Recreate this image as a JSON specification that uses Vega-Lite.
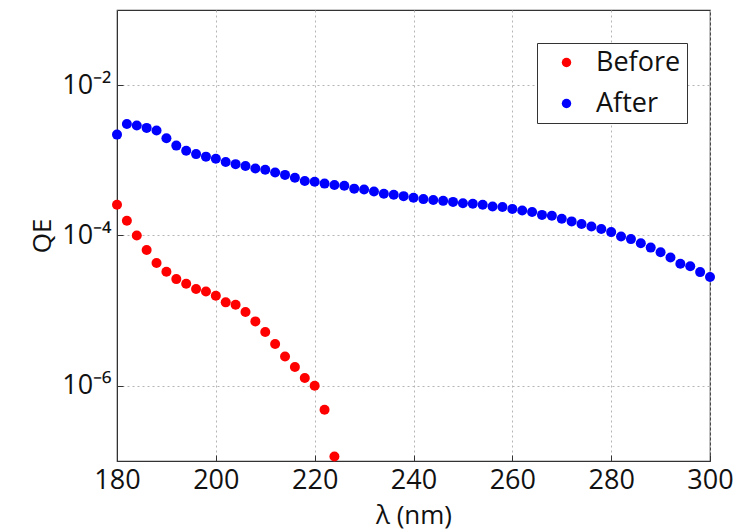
{
  "$schema": "https://vega.github.io/schema/vega-lite/v6.json",
  "autosize": {"type": "none"},
  "padding": {"left": 117, "top": 10, "right": 28, "bottom": 70},
  "width": 593,
  "height": 451,
  "background": "white",
  "config": {
    "font": "Open Sans",
    "view": {"stroke": "#333", "strokeWidth": 1.2},
    "axis": {
      "domainColor": "#333",
      "tickColor": "#333",
      "labelColor": "#111",
      "titleColor": "#111",
      "labelFont": "Open Sans",
      "titleFont": "Open Sans",
      "labelFontSize": 27,
      "titleFontSize": 26,
      "titleFontWeight": "normal",
      "gridColor": "#b5b5b5",
      "gridDash": [2, 3],
      "gridWidth": 1,
      "tickSize": -6,
      "labelFlush": false
    }
  },
  "data": {
    "values": [
      {"lambda": 180, "qe": 0.000256, "series": "Before"},
      {"lambda": 182, "qe": 0.000157, "series": "Before"},
      {"lambda": 184, "qe": 0.0001, "series": "Before"},
      {"lambda": 186, "qe": 0.000064, "series": "Before"},
      {"lambda": 188, "qe": 0.000043, "series": "Before"},
      {"lambda": 190, "qe": 0.0000329, "series": "Before"},
      {"lambda": 192, "qe": 0.0000263, "series": "Before"},
      {"lambda": 194, "qe": 0.0000228, "series": "Before"},
      {"lambda": 196, "qe": 0.0000194, "series": "Before"},
      {"lambda": 198, "qe": 0.000018, "series": "Before"},
      {"lambda": 200, "qe": 0.0000158, "series": "Before"},
      {"lambda": 202, "qe": 0.0000129, "series": "Before"},
      {"lambda": 204, "qe": 0.000012, "series": "Before"},
      {"lambda": 206, "qe": 0.0000096, "series": "Before"},
      {"lambda": 208, "qe": 0.0000072, "series": "Before"},
      {"lambda": 210, "qe": 0.0000052, "series": "Before"},
      {"lambda": 212, "qe": 0.0000036, "series": "Before"},
      {"lambda": 214, "qe": 0.00000246, "series": "Before"},
      {"lambda": 216, "qe": 0.00000178, "series": "Before"},
      {"lambda": 218, "qe": 0.00000127, "series": "Before"},
      {"lambda": 220, "qe": 0.000001, "series": "Before"},
      {"lambda": 222, "qe": 0.00000048, "series": "Before"},
      {"lambda": 224, "qe": 0.000000115, "series": "Before"},
      {"lambda": 180, "qe": 0.0022, "series": "After"},
      {"lambda": 182, "qe": 0.00305, "series": "After"},
      {"lambda": 184, "qe": 0.0029, "series": "After"},
      {"lambda": 186, "qe": 0.0027, "series": "After"},
      {"lambda": 188, "qe": 0.00249, "series": "After"},
      {"lambda": 190, "qe": 0.00197, "series": "After"},
      {"lambda": 192, "qe": 0.00157, "series": "After"},
      {"lambda": 194, "qe": 0.00134, "series": "After"},
      {"lambda": 196, "qe": 0.00121, "series": "After"},
      {"lambda": 198, "qe": 0.00112, "series": "After"},
      {"lambda": 200, "qe": 0.00105, "series": "After"},
      {"lambda": 202, "qe": 0.00095, "series": "After"},
      {"lambda": 204, "qe": 0.00089, "series": "After"},
      {"lambda": 206, "qe": 0.00084, "series": "After"},
      {"lambda": 208, "qe": 0.00078, "series": "After"},
      {"lambda": 210, "qe": 0.00075, "series": "After"},
      {"lambda": 212, "qe": 0.00069, "series": "After"},
      {"lambda": 214, "qe": 0.00064, "series": "After"},
      {"lambda": 216, "qe": 0.000585, "series": "After"},
      {"lambda": 218, "qe": 0.00053, "series": "After"},
      {"lambda": 220, "qe": 0.00052, "series": "After"},
      {"lambda": 222, "qe": 0.00049, "series": "After"},
      {"lambda": 224, "qe": 0.00047, "series": "After"},
      {"lambda": 226, "qe": 0.00046, "series": "After"},
      {"lambda": 228, "qe": 0.00042, "series": "After"},
      {"lambda": 230, "qe": 0.00041, "series": "After"},
      {"lambda": 232, "qe": 0.000385, "series": "After"},
      {"lambda": 234, "qe": 0.000359, "series": "After"},
      {"lambda": 236, "qe": 0.000348, "series": "After"},
      {"lambda": 238, "qe": 0.000334, "series": "After"},
      {"lambda": 240, "qe": 0.000317, "series": "After"},
      {"lambda": 242, "qe": 0.000305, "series": "After"},
      {"lambda": 244, "qe": 0.000296, "series": "After"},
      {"lambda": 246, "qe": 0.000289, "series": "After"},
      {"lambda": 248, "qe": 0.00028, "series": "After"},
      {"lambda": 250, "qe": 0.000269, "series": "After"},
      {"lambda": 252, "qe": 0.000264, "series": "After"},
      {"lambda": 254, "qe": 0.000256, "series": "After"},
      {"lambda": 256, "qe": 0.000243, "series": "After"},
      {"lambda": 258, "qe": 0.000239, "series": "After"},
      {"lambda": 260, "qe": 0.000226, "series": "After"},
      {"lambda": 262, "qe": 0.000215, "series": "After"},
      {"lambda": 264, "qe": 0.000205, "series": "After"},
      {"lambda": 266, "qe": 0.000188, "series": "After"},
      {"lambda": 268, "qe": 0.000183, "series": "After"},
      {"lambda": 270, "qe": 0.000167, "series": "After"},
      {"lambda": 272, "qe": 0.000154, "series": "After"},
      {"lambda": 274, "qe": 0.000142, "series": "After"},
      {"lambda": 276, "qe": 0.000132, "series": "After"},
      {"lambda": 278, "qe": 0.000122, "series": "After"},
      {"lambda": 280, "qe": 0.000111, "series": "After"},
      {"lambda": 282, "qe": 0.000097, "series": "After"},
      {"lambda": 284, "qe": 0.0000895, "series": "After"},
      {"lambda": 286, "qe": 0.000079, "series": "After"},
      {"lambda": 288, "qe": 0.000069, "series": "After"},
      {"lambda": 290, "qe": 0.00006, "series": "After"},
      {"lambda": 292, "qe": 0.000051, "series": "After"},
      {"lambda": 294, "qe": 0.000042, "series": "After"},
      {"lambda": 296, "qe": 0.000039, "series": "After"},
      {"lambda": 298, "qe": 0.0000326, "series": "After"},
      {"lambda": 300, "qe": 0.000028, "series": "After"}
    ]
  },
  "mark": {"type": "point", "filled": true, "opacity": 1, "size": 100, "clip": false},
  "encoding": {
    "x": {
      "field": "lambda",
      "type": "quantitative",
      "scale": {"domain": [180, 300], "nice": false, "zero": false},
      "axis": {
        "title": "λ (nm)",
        "values": [180, 200, 220, 240, 260, 280, 300],
        "labelPadding": 12,
        "titlePadding": 9,
        "grid": true
      }
    },
    "y": {
      "field": "qe",
      "type": "quantitative",
      "scale": {"type": "log", "domain": [1e-7, 0.1], "nice": false},
      "axis": {
        "title": "QE",
        "values": [0.000001, 0.0001, 0.01],
        "labelExpr": "datum.value < 0.00001 ? '10⁻⁶' : datum.value < 0.001 ? '10⁻⁴' : '10⁻²'",
        "labelPadding": 12,
        "titlePadding": 6,
        "grid": true
      }
    },
    "color": {
      "field": "series",
      "type": "nominal",
      "scale": {"domain": ["Before", "After"], "range": ["#ff0000", "#0000ff"]},
      "legend": {
        "title": null,
        "orient": "none",
        "legendX": 420,
        "legendY": 33,
        "fillColor": "white",
        "strokeColor": "#333",
        "padding": 6,
        "labelFontSize": 27,
        "labelFont": "Open Sans",
        "labelColor": "#111",
        "symbolSize": 90,
        "symbolType": "circle",
        "rowPadding": 13,
        "labelOffset": 16,
        "symbolOffset": 10
      }
    }
  }
}
